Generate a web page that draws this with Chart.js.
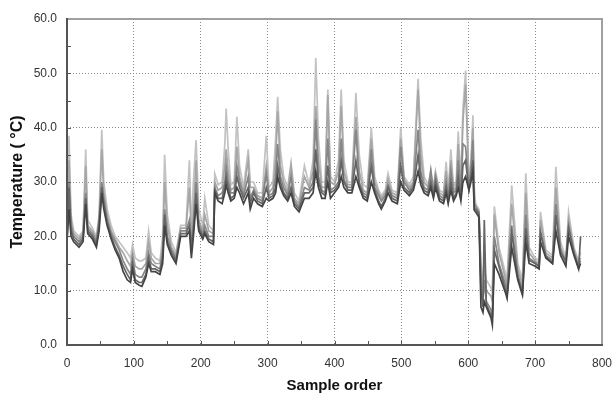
<!DOCTYPE html>
<html>
<head>
<meta charset="utf-8">
<script src="https://cdn.jsdelivr.net/npm/chart.js@4.4.0/dist/chart.umd.min.js"></script>
<style>
  html, body { margin: 0; padding: 0; background: #fff; }
  canvas { display: block; }
</style>
</head>
<body>
<canvas id="tempChart" width="613" height="395"></canvas>
<script>
// sample positions (x) shared by all sensor series
const sampleOrder = [0,3,6,10,18,24,28,31,38,44,48,52,55,60,66,72,78,84,90,95,98,102,108,112,118,122,126,132,139,143,146,150,156,163,170,178,183,186,189,193,197,203,206,212,219,221,226,232,236,238,241,245,250,254,258,264,271,274,279,285,292,298,302,308,312,315,319,324,330,335,340,347,355,362,368,372,376,381,386,390,394,400,406,410,414,420,426,432,437,443,449,455,460,466,470,476,480,486,494,499,504,512,518,525,529,534,540,544,548,551,557,563,567,570,574,578,582,585,589,592,596,601,604,607,609,611,616,619,622,624,627,634,636,639,646,656,658,665,674,681,686,691,700,706,708,716,726,731,738,746,750,758,765,768];

// temperature readings, lightest line first
const sensorA = [21,38.5,24,21,20,21,36,23,21.5,20, 24,39.6,30,25,22,20,19,18,17,16, 18.5,16,15.5,15.5,16,21,17,16,15.5,20, 35,24,19,17,22,22,34,21,30,37.7, 25,22,27,22,21,31.5,29.5,30,37,43.5, 36,29.5,30,42,33,29,36,30,30,28, 28,38.5,29,30,38,45.7,36,31,29,33.5, 28,26.5,33,29.5,34,52.8,38,30,30,47, 31,30,34,47,34,30,30,46.4,35,29.5, 29,40,31,28.5,27.5,28.5,31.6,28.5,28,40, 31,29.5,31,49,38,31,29.5,32,29,32, 28.5,28,33.7,28,36,29,30,39.3,30,43.3, 50.5,30,34,42.3,29,26,25,15,12,14, 12,10.5,10,25.5,18,13,12,29.4,15,12, 31.6,18,16,15.5,24.5,17.5,16.5,32.8,19,16, 24.5,18,15.5,17];
const sensorB = [20.5,34,23,20.5,19.5,20.5,33,22,21,19.5, 23,36,28,24,21,19.5,18,17,15.5,14.5, 17,14.5,14,14,15,19,16,15,15,18, 30,22,18,16.5,21.5,21.5,29,20,24,34, 23,21,24,21,20.5,30,28.5,29,33,36, 32,28.5,29,36.5,31,28,34,29,29,27.5, 27,33,28,29,34,43,33,30,28,33, 27,26,31,29,32,44,34,29,29,46, 30,29.5,32,44,32,29.5,29.5,42,32,28.5, 28,38,30,28,27,28,30.5,28,27.5,38, 30.5,29,30,47,35,30,29,31,28.5,31.5, 28,27.5,32,27.5,34,28.5,29,37,29,41, 48,29.5,33,40,27,25.5,24.5,13,10,16, 10,9,8,24,17,12,11,26,14,11, 28,17,15.5,15,23,17,16,29,18,15.5, 23,17.5,15,16];
const sensorC = [20,30,22,20,19,20,28,21.5,20.5,19, 23,30,27,23,20.5,19,17.5,15.5,14,13, 16,13,12.5,12.5,14,17,15,14.5,14,17, 25,20,17.5,16,21,21,23,19,22,30, 22,20.5,22,20,20,29,27.5,28,30,33, 30,28,28,33,30,27.5,31,27,28.5,27, 26.5,31.5,27.5,28,31,37,31,29,27.5,31, 26.5,25.5,29,28.5,30,41.5,31,28.5,28,38, 28.5,29,30,38,30.5,29,29,39.6,30,28, 27.5,36,29,27.5,26.5,27.5,29.5,27.5,27,36.5, 30,28.5,29.5,39.6,32,29,28.5,32.2,28,31, 27.5,27,30,27,32,28,28.5,34,28,37, 36.5,29,32,37.7,26,25.5,24.5,12,8,12, 8,6.5,5,20,15,11,10,22,13,10, 24,16,15.2,14.5,21,16.5,15.5,26,17.5,15, 22,17,14.5,15.5];
const sensorD = [19.5,29,21,19.5,18.5,19.5,27,21,20,18.5, 22,29,26,22.5,20,18,16.5,14.5,13,12, 15,12,11.5,11.5,13,16,14,14,13.5,16, 24,19,17,15.5,20.5,20.5,22,18,21,28, 21.5,20,21,19.5,19,28.5,27,27,29,31, 29,27,27.5,31,29,27,29,26,28,26.5, 26,29,27,27.5,29,33,30,28,27,29, 26,25,28,28,29,36,30,28,27.5,33, 28,28.5,29.5,34,30,28.5,28.5,34,29.5,27.5, 27,33,28.5,26.5,25.5,27,29,27,26.5,33, 29,28,29,35,30.5,28.5,28,30,27.5,30, 27,26.5,29,26.5,30,27,28,31,27,33, 34,28.5,31,34,25,25,24,10,7,23, 7.5,5.5,4.5,17.5,14.4,10,9,20.6,12.5,9.5, 21.5,15.6,15,14.4,20.6,16.3,15,23.9,17,15.5, 21.5,17,14.1,20];
const sensorE = [19,25,20,19,18,19,26,20.5,19.5,18, 21,28,25,22,19.5,17.5,16,13.5,12,11.5, 14,11.5,11,10.8,12.5,15,13.5,13.5,13,15, 22,18.5,16.5,15,20,20,21,16,20,26, 21,19.5,20.5,19,18.5,28,26.5,26,28,29.5, 28,26.5,27,29,28,26,28,25,27,26, 25.5,27,26.5,27,28,31,29,27.5,26.5,28, 25.5,24.5,27,27,28,32,29,27,27,30, 27,28,29,31,29,28,28,31,29,27, 26.5,30,28,26,25,26.5,28,26.5,26,30, 28.5,27.5,28.5,32,29.5,28,27.5,29,27,29, 26.5,26,28,26,28.5,26.5,27.5,29,26.5,30, 31,28.5,30,32,24.8,24.5,23.5,7,6,8, 7,5,3.7,15,13,9.5,8.6,18,12,9.2, 19,15,14.5,14,19,16,15,21,16.5,14.5, 20,16.5,14,15];

const xTicks = [0, 100, 200, 300, 400, 500, 600, 700, 800];
const yTicks = [0, 10, 20, 30, 40, 50, 60];

// darkest first so it is drawn on top
const seriesList = [
    { values: sensorE, color: '#444444' },
    { values: sensorD, color: '#656565' },
    { values: sensorC, color: '#868686' },
    { values: sensorB, color: '#a6a6a6' },
    { values: sensorA, color: '#c2c2c2' }
];

Chart.defaults.font.family = '"Liberation Sans", Arial, sans-serif';

// plot frame and the small inside ticks
const framePlugin = {
    id: 'frame',
    afterDatasetsDraw(chart) {
        const { ctx, chartArea: a, scales: { x, y } } = chart;
        ctx.save();
        ctx.lineWidth = 2;
        ctx.strokeStyle = '#a0a0a0';
        ctx.beginPath();
        ctx.moveTo(a.left, a.top);
        ctx.lineTo(a.right, a.top);
        ctx.lineTo(a.right, a.bottom);
        ctx.stroke();
        ctx.strokeStyle = '#555555';
        ctx.beginPath();
        ctx.moveTo(a.left, a.top - 1);
        ctx.lineTo(a.left, a.bottom);
        ctx.lineTo(a.right + 1, a.bottom);
        ctx.stroke();
        ctx.lineWidth = 1;
        ctx.beginPath();
        for (let v = 50; v < 800; v += 50) {
            const px = Math.round(x.getPixelForValue(v)) + 0.5;
            ctx.moveTo(px, a.bottom);
            ctx.lineTo(px, a.bottom - 4);
        }
        for (let v = 5; v < 60; v += 5) {
            const py = Math.round(y.getPixelForValue(v)) + 0.5;
            ctx.moveTo(a.left, py);
            ctx.lineTo(a.left + 4, py);
        }
        ctx.stroke();
        ctx.restore();
    }
};

function gridColor(c, max) {
    const v = c.tick ? c.tick.value : null;
    return (v === 0 || v === max) ? 'rgba(0,0,0,0)' : '#8a8a8a';
}

const ctx = document.getElementById('tempChart').getContext('2d');
new Chart(ctx, {
    type: 'line',
    data: {
        datasets: seriesList.map(s => ({
            data: sampleOrder.map((xv, i) => ({ x: xv, y: s.values[i] })),
            borderColor: s.color,
            borderWidth: 1.7,
            pointRadius: 0,
            tension: 0,
            fill: false
        }))
    },
    options: {
        responsive: false,
        animation: false,
        layout: { padding: { top: 19, right: 11, left: 0, bottom: 0 } },
        plugins: { legend: { display: false }, tooltip: { enabled: false } },
        scales: {
            x: {
                type: 'linear',
                min: 0,
                max: 800,
                afterBuildTicks: (s) => { s.ticks = xTicks.map(v => ({ value: v })); },
                afterFit: (s) => { s.height = 50; s.paddingLeft = 0; s.paddingRight = 0; },
                grid: { drawTicks: false, color: (c) => gridColor(c, 800), lineWidth: 1 },
                border: { display: false, dash: [1, 2] },
                ticks: { padding: 11, color: '#333', font: { size: 12 }, maxRotation: 0 },
                title: {
                    display: true,
                    text: 'Sample order',
                    color: '#111',
                    font: { size: 15, weight: 'bold' },
                    padding: { top: 0, bottom: 0 }
                }
            },
            y: {
                min: 0,
                max: 60,
                afterBuildTicks: (s) => { s.ticks = yTicks.map(v => ({ value: v })); },
                afterFit: (s) => { s.width = 67; s.paddingTop = 0; s.paddingBottom = 0; },
                grid: { drawTicks: false, color: (c) => gridColor(c, 60), lineWidth: 1 },
                border: { display: false, dash: [1, 2] },
                ticks: { padding: 10, color: '#333', font: { size: 12 }, callback: (v) => v.toFixed(1) },
                title: {
                    display: true,
                    text: 'Temperature ( °C)',
                    color: '#111',
                    font: { size: 16, weight: 'bold' },
                    padding: { top: 8, bottom: 0 }
                }
            }
        }
    },
    plugins: [framePlugin]
});
</script>
</body>
</html>
